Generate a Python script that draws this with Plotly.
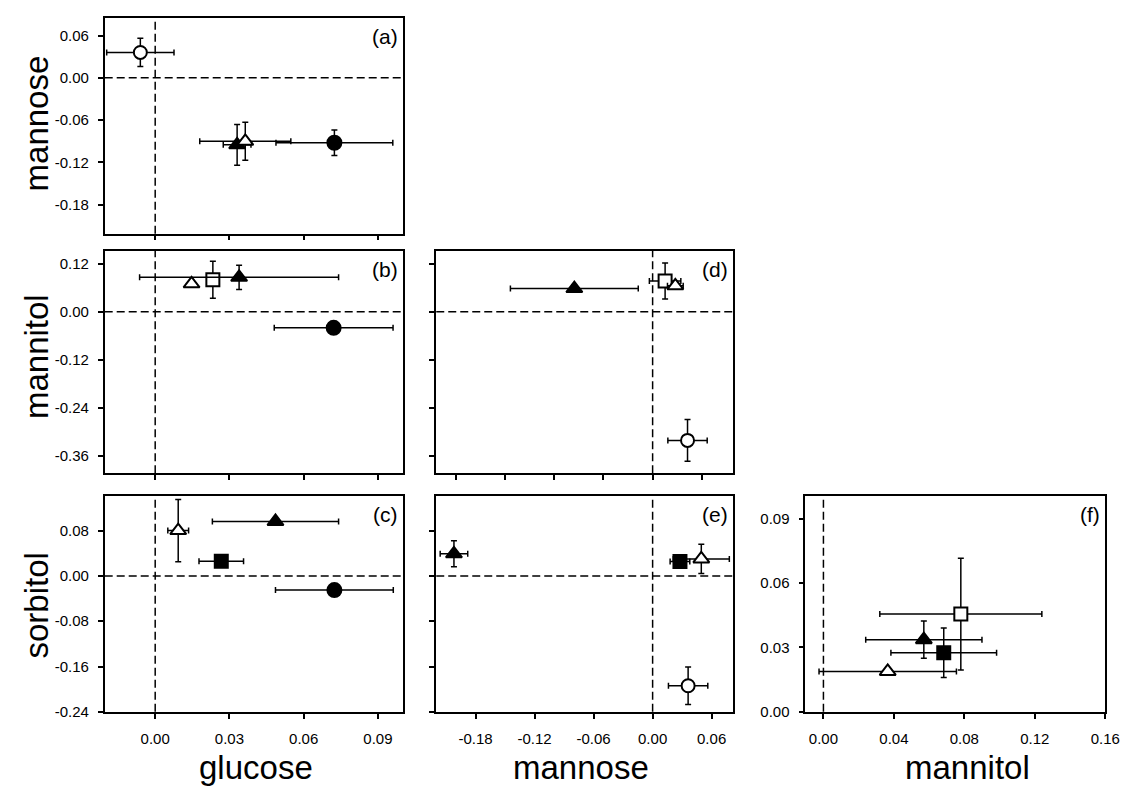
import plotly.graph_objects as go

# ---------------- data ----------------
# marker keys: oc=open circle, fc=filled circle, ot=open triangle,
#              ft=filled triangle, os=open square, fs=filled square
# (a) glucose vs mannose
a_keys = ["oc", "ft", "ot", "fc"]
a_x = [-0.0060, 0.0331, 0.0364, 0.0724]
a_xerr = [0.0136, 0.0056, 0.0184, 0.0236]
a_y = [0.036, -0.095, -0.090, -0.092]
a_yerr = [0.020, 0.029, 0.027, 0.018]

# (b) glucose vs mannitol
b_keys = ["ot", "os", "ft", "fc"]
b_x = [0.0147, 0.0233, 0.0339, 0.0721]
b_xerr = [0.0, 0.0, 0.0402, 0.0240]
b_y = [0.070, 0.080, 0.086, -0.040]
b_yerr = [0.0, 0.046, 0.030, 0.0]

# (c) glucose vs sorbitol
c_keys = ["ot", "fs", "ft", "fc"]
c_x = [0.0093, 0.0267, 0.0486, 0.0724]
c_xerr = [0.0042, 0.0090, 0.0255, 0.0238]
c_y = [0.080, 0.026, 0.096, -0.025]
c_yerr = [0.055, 0.0, 0.0, 0.0]

# (d) mannose vs mannitol
d_keys = ["ft", "os", "ot", "oc"]
d_x = [-0.0796, 0.0127, 0.0231, 0.0355]
d_xerr = [0.0650, 0.0160, 0.0080, 0.0200]
d_y = [0.058, 0.077, 0.065, -0.321]
d_yerr = [0.0, 0.045, 0.0, 0.052]

# (e) mannose vs sorbitol
e_keys = ["ft", "fs", "ot", "oc"]
e_x = [-0.2020, 0.0278, 0.0495, 0.0361]
e_xerr = [0.0140, 0.0100, 0.0285, 0.0200]
e_y = [0.039, 0.0256, 0.030, -0.194]
e_yerr = [0.023, 0.0, 0.026, 0.033]

# (f) mannitol vs sorbitol
f_keys = ["ot", "ft", "fs", "os"]
f_x = [0.0365, 0.0570, 0.0683, 0.0780]
f_xerr = [0.0390, 0.0330, 0.0300, 0.0460]
f_y = [0.0188, 0.0336, 0.0275, 0.0455]
f_yerr = [0.0, 0.0087, 0.0115, 0.026]

glucose_ticks = [0.00, 0.03, 0.06, 0.09]
mannose_ticks = [-0.18, -0.12, -0.06, 0.00, 0.06]
mannose_ticks_d = [-0.20, -0.15, -0.10, -0.05, 0.00, 0.05]
mannitol_x_ticks = [0.00, 0.04, 0.08, 0.12, 0.16]
mannose_y_ticks = [0.06, 0.00, -0.06, -0.12, -0.18]
mannitol_y_ticks = [0.12, 0.00, -0.12, -0.24, -0.36]
sorbitol_y_ticks = [0.08, 0.00, -0.08, -0.16, -0.24]
sorbitol_y_ticks_f = [0.00, 0.03, 0.06, 0.09]

# ---------------- styles ----------------
STYLE = {
    "oc": dict(symbol="circle", size=13, color="white"),
    "fc": dict(symbol="circle", size=14, color="black"),
    "ot": dict(symbol="triangle-up", size=14, color="white"),
    "ft": dict(symbol="triangle-up", size=14, color="black"),
    "os": dict(symbol="square", size=13, color="white"),
    "fs": dict(symbol="square", size=13, color="black"),
}

W, H = 1132, 792
FONT = "Arial, Liberation Sans, sans-serif"

def px_x(a, b):
    return [a / W, b / W]

def px_y(top, bottom):
    return [1 - bottom / H, 1 - top / H]

panels = [
    # name, keys, x, xerr, y, yerr, xdom, ydom, xrange, yrange, xticks, showxl, yticks, showyl, hline
    ("a", a_keys, a_x, a_xerr, a_y, a_yerr, px_x(98, 400), px_y(10, 228), [-0.0204, 0.100], [-0.221, 0.085],
     glucose_ticks, False, mannose_y_ticks, True, True),
    ("b", b_keys, b_x, b_xerr, b_y, b_yerr, px_x(98, 400), px_y(245, 470), [-0.0204, 0.100], [-0.403, 0.153],
     glucose_ticks, False, mannitol_y_ticks, True, True),
    ("c", c_keys, c_x, c_xerr, c_y, c_yerr, px_x(98, 400), px_y(493, 711), [-0.0204, 0.100], [-0.240, 0.141],
     glucose_ticks, True, sorbitol_y_ticks, True, True),
    ("d", d_keys, d_x, d_xerr, d_y, d_yerr, px_x(434, 735), px_y(245, 470), [-0.220, 0.082], [-0.403, 0.153],
     mannose_ticks_d, False, mannitol_y_ticks, False, True),
    ("e", e_keys, e_x, e_xerr, e_y, e_yerr, px_x(434, 735), px_y(493, 711), [-0.220, 0.082], [-0.240, 0.141],
     mannose_ticks, True, sorbitol_y_ticks, False, True),
    ("f", f_keys, f_x, f_xerr, f_y, f_yerr, px_x(808, 1112), px_y(493, 711), [-0.0103, 0.160], [0.0, 0.1005],
     mannitol_x_ticks, True, sorbitol_y_ticks_f, True, False),
]

fig = go.Figure()
layout = {}
shapes = []
annotations = []

axis_common = dict(
    showline=True, mirror=True, linecolor="black", linewidth=1.5,
    ticks="outside", ticklen=5, tickwidth=1.5, tickcolor="black",
    showgrid=False, zeroline=False,
    tickfont=dict(family=FONT, size=15, color="black"),
)

for i, (name, keys, xs, xe, ys, ye, xdom, ydom, xr, yr, xt, showxl, yt, showyl, hline) in enumerate(panels, start=1):
    xa = "x" if i == 1 else f"x{i}"
    ya = "y" if i == 1 else f"y{i}"
    layout["xaxis" if i == 1 else f"xaxis{i}"] = dict(
        axis_common, domain=xdom, range=xr, anchor=ya, tickvals=xt,
        ticktext=[f"{v:.2f}" for v in xt], showticklabels=showxl, ticklabelstandoff=7)
    layout["yaxis" if i == 1 else f"yaxis{i}"] = dict(
        axis_common, domain=ydom, range=yr, anchor=xa, tickvals=yt,
        ticktext=[f"{v:.2f}" for v in yt], showticklabels=showyl, ticklabelstandoff=6)

    # dashed zero lines
    shapes.append(dict(type="line", xref=xa, yref=f"{ya} domain", x0=0, x1=0, y0=0, y1=1,
                       line=dict(color="black", width=1.5, dash="8px,4px"), layer="below"))
    if hline:
        shapes.append(dict(type="line", xref=f"{xa} domain", yref=ya, x0=0, x1=1, y0=0, y1=0,
                           line=dict(color="black", width=1.5, dash="8px,4px"), layer="below"))

    for k, x, dx, y, dy in zip(keys, xs, xe, ys, ye):
        st = STYLE[k]
        fig.add_trace(go.Scatter(
            x=[x], y=[y], xaxis=xa, yaxis=ya, mode="markers", showlegend=False,
            marker=dict(symbol=st["symbol"], size=st["size"], color=st["color"],
                        line=dict(color="black", width=2)),
            error_x=dict(type="data", array=[dx], visible=dx > 0, color="black", thickness=1.5, width=3),
            error_y=dict(type="data", array=[dy], visible=dy > 0, color="black", thickness=1.5, width=3),
        ))

    annotations.append(dict(text=f"({name})", xref=f"{xa} domain", yref=f"{ya} domain",
                            x=0.99, y=0.975, xanchor="right", yanchor="top", showarrow=False,
                            font=dict(family=FONT, size=21, color="black")))

# axis titles
left_titles = [("mannose", 117), ("mannitol", 352), ("sorbitol", 604)]
for t, yc in left_titles:
    annotations.append(dict(text=t, xref="paper", yref="paper", x=29 / W, y=1 - yc / H,
                            xanchor="center", yanchor="middle", textangle=-90, showarrow=False,
                            font=dict(family=FONT, size=33, color="black")))
bottom_titles = [("glucose", 251), ("mannose", 581), ("mannitol", 972)]
for t, xc in bottom_titles:
    annotations.append(dict(text=t, xref="paper", yref="paper", x=xc / W, y=1 - 767 / H,
                            xanchor="center", yanchor="middle", showarrow=False,
                            font=dict(family=FONT, size=33, color="black")))

fig.update_layout(
    width=W, height=H, margin=dict(l=0, r=0, t=0, b=0),
    paper_bgcolor="white", plot_bgcolor="white",
    shapes=shapes, annotations=annotations, **layout,
)

fig.write_html("out.html")
